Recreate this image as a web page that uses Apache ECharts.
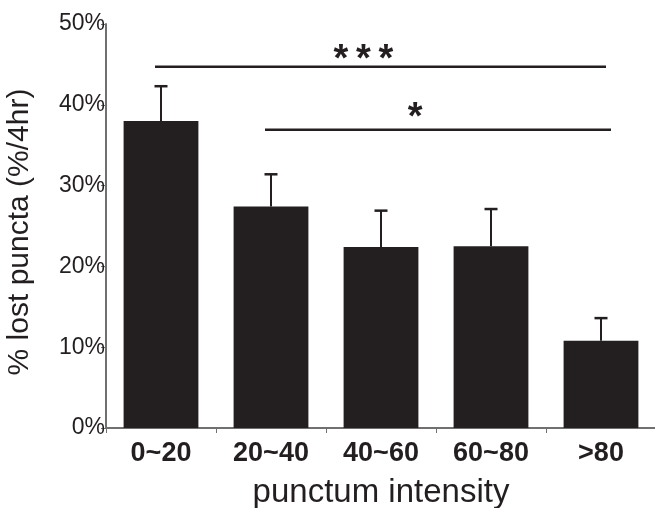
<!DOCTYPE html>
<html>
<head>
<meta charset="utf-8">
<script src="https://cdn.jsdelivr.net/npm/echarts@6/dist/echarts.min.js"></script>
<style>
html, body { margin: 0; padding: 0; background: #fff; }
#chart { width: 655px; height: 508px; }
</style>
</head>
<body>
<div id="chart"></div>
<script>
// data
var categories = ['0~20', '20~40', '40~60', '60~80', '>80'];
var lostPct = [38.0, 27.4, 22.4, 22.5, 10.8];
var errTop = [42.3, 31.4, 26.9, 27.1, 13.6];
var yTicks = [0, 10, 20, 30, 40, 50];
// significance brackets: from category, to category, line level, star label + where it sits
var sigFrom = [0, 1];
var sigTo = [4, 4];
var sigLevel = [44.7, 36.9];
var sigLabel = ['*\u2009*\u2009*', '*'];
var starAt = [1.84, 2.31];
var starLevel = [46.7, 39.5];

var ink = '#231f20';
var axisGrey = '#707070';
var font = 'Liberation Sans, Arial, Helvetica, sans-serif';

var chart = echarts.init(document.getElementById('chart'));

var errData = [];
for (var i = 0; i < categories.length; i++) {
    errData.push([i, lostPct[i], errTop[i]]);
}
var sigData = [];
for (var j = 0; j < sigFrom.length; j++) {
    sigData.push([sigFrom[j], sigTo[j], sigLevel[j], starAt[j], starLevel[j]]);
}

var option = {
    animation: false,
    grid: { left: 106, right: -1, top: 24, bottom: 80, outerBoundsMode: 'none', containLabel: false },
    xAxis: {
        type: 'category',
        data: categories,
        name: 'punctum intensity',
        nameLocation: 'middle',
        nameGap: 48,
        nameTextStyle: { color: ink, fontSize: 33, fontFamily: font },
        axisLine: { lineStyle: { color: axisGrey, width: 2 } },
        axisTick: { show: true, length: 5, lineStyle: { color: axisGrey } },
        axisLabel: { color: ink, fontSize: 27, fontWeight: 'bold', fontFamily: font, margin: 12 }
    },
    yAxis: {
        type: 'value',
        min: yTicks[0],
        max: yTicks[yTicks.length - 1],
        interval: 10,
        name: '% lost puncta (%/4hr)',
        nameLocation: 'middle',
        nameGap: 71,
        nameTextStyle: { color: ink, fontSize: 30, fontFamily: font, padding: [0, 12, 0, 0] },
        splitLine: { show: false },
        axisLine: { show: true, lineStyle: { color: axisGrey, width: 2 } },
        axisTick: { show: true, length: 5, lineStyle: { color: axisGrey } },
        axisLabel: { color: ink, fontSize: 23, fontFamily: font, margin: 1, formatter: '{value}%' }
    },
    series: [
        {
            type: 'bar',
            data: lostPct,
            barCategoryGap: '32%',
            itemStyle: { color: ink },
            z: 2
        },
        {
            // error bars (upper only)
            type: 'custom',
            data: errData,
            z: 3,
            renderItem: function (params, api) {
                var lo = api.coord([api.value(0), api.value(1)]);
                var hi = api.coord([api.value(0), api.value(2)]);
                var cap = 6.5;
                return {
                    type: 'group',
                    children: [
                        { type: 'line', shape: { x1: lo[0], y1: lo[1], x2: hi[0], y2: hi[1] }, style: { stroke: ink, lineWidth: 2 } },
                        { type: 'line', shape: { x1: hi[0] - cap, y1: hi[1], x2: hi[0] + cap, y2: hi[1] }, style: { stroke: ink, lineWidth: 2.5 } }
                    ]
                };
            }
        },
        {
            // significance lines with stars
            type: 'custom',
            data: sigData,
            z: 3,
            renderItem: function (params, api) {
                var a = api.coord([api.value(0), api.value(2)]);
                var b = api.coord([api.value(1), api.value(2)]);
                // category axis snaps to whole categories, so interpolate the star position
                var pos = api.value(3);
                var c0 = api.coord([Math.floor(pos), api.value(4)]);
                var c1 = api.coord([Math.ceil(pos), api.value(4)]);
                var f = pos - Math.floor(pos);
                var sx = c0[0] + (c1[0] - c0[0]) * f;
                return {
                    type: 'group',
                    children: [
                        { type: 'line', shape: { x1: a[0] - 6, y1: a[1], x2: b[0] + 5 + params.dataIndex * 5, y2: b[1] }, style: { stroke: ink, lineWidth: 2.5 } },
                        { type: 'text', x: sx, y: c0[1] + 10, style: { text: sigLabel[params.dataIndex], fill: ink, font: 'bold 38px ' + font, align: 'center', verticalAlign: 'middle' } }
                    ]
                };
            }
        }
    ]
};
chart.setOption(option);
</script>
</body>
</html>
